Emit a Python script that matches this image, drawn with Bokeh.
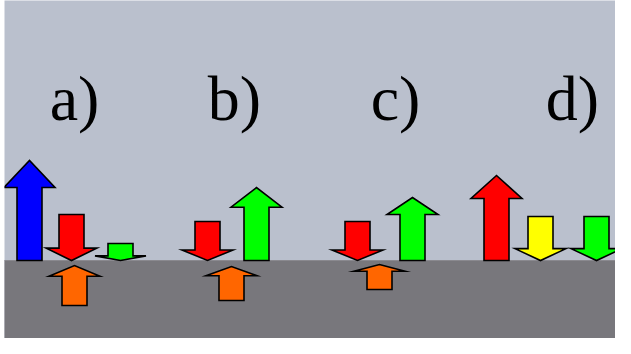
from bokeh.plotting import figure
from bokeh.models import Range1d, ColumnDataSource
from bokeh.core.properties import value
from bokeh.embed import file_html
from bokeh.resources import INLINE

# Panel labels
labels = ["a)", "b)", "c)", "d)"]
label_x = [82, 242, 403, 580]
label_y = [162, 162, 162, 162]

# Arrows: x position, start height, end height (ground = 0), colour
arrow_x = [37, 79, 128, 82, 215, 264, 239, 365, 420, 387, 504, 548, 604]
arrow_start = [0, 46, 17, -45, 39, 0, -40, 39, 0, -29, 0, 44, 44]
arrow_end = [100, 0, 0, -5, 0, 73, -6, 0, 63, -4, 85, 0, 0]
arrow_color = ["#0000FF", "#FF0000", "#00FF00", "#FF6600",
               "#FF0000", "#00FF00", "#FF6600",
               "#FF0000", "#00FF00", "#FF6600",
               "#FF0000", "#FFFF00", "#00FF00"]

SHAFT = 25
HEAD = 51
HEAD_FRAC = 0.27

xs, ys = [], []
for x, y0, y1 in zip(arrow_x, arrow_start, arrow_end):
    d = 1 if y1 > y0 else -1
    L = abs(y1 - y0)
    hb = y1 - d * HEAD_FRAC * L
    xs.append([x - SHAFT / 2, x - SHAFT / 2, x - HEAD / 2, x, x + HEAD / 2, x + SHAFT / 2, x + SHAFT / 2])
    ys.append([y0, hb, hb, y1, hb, hb, y0])

p = figure(width=615, height=338, output_backend="svg", toolbar_location=None,
           x_range=Range1d(12, 623), y_range=Range1d(-78, 260),
           min_border_left=4, min_border_right=0, min_border_top=0, min_border_bottom=0)
p.axis.visible = False
p.grid.visible = False
p.outline_line_color = None
p.background_fill_color = "#BAC0CD"
p.border_fill_color = "white"

# ground
p.quad(left=[0], right=[640], bottom=[-100], top=[0], fill_color="#78777C", line_color=None)
p.segment(x0=[0], x1=[640], y0=[0], y1=[0], line_color="#8A898F", line_width=1)

src = ColumnDataSource(dict(xs=xs, ys=ys, color=arrow_color))
p.patches("xs", "ys", source=src, fill_color="color", line_color="black", line_width=1.6,
          line_join="miter")

p.text(x=label_x, y=label_y, text=labels, text_font=value("Liberation Serif"),
       text_font_size="64px", text_align="center", text_baseline="alphabetic",
       text_color="black")

open("out.html", "w").write(file_html(p, INLINE))
